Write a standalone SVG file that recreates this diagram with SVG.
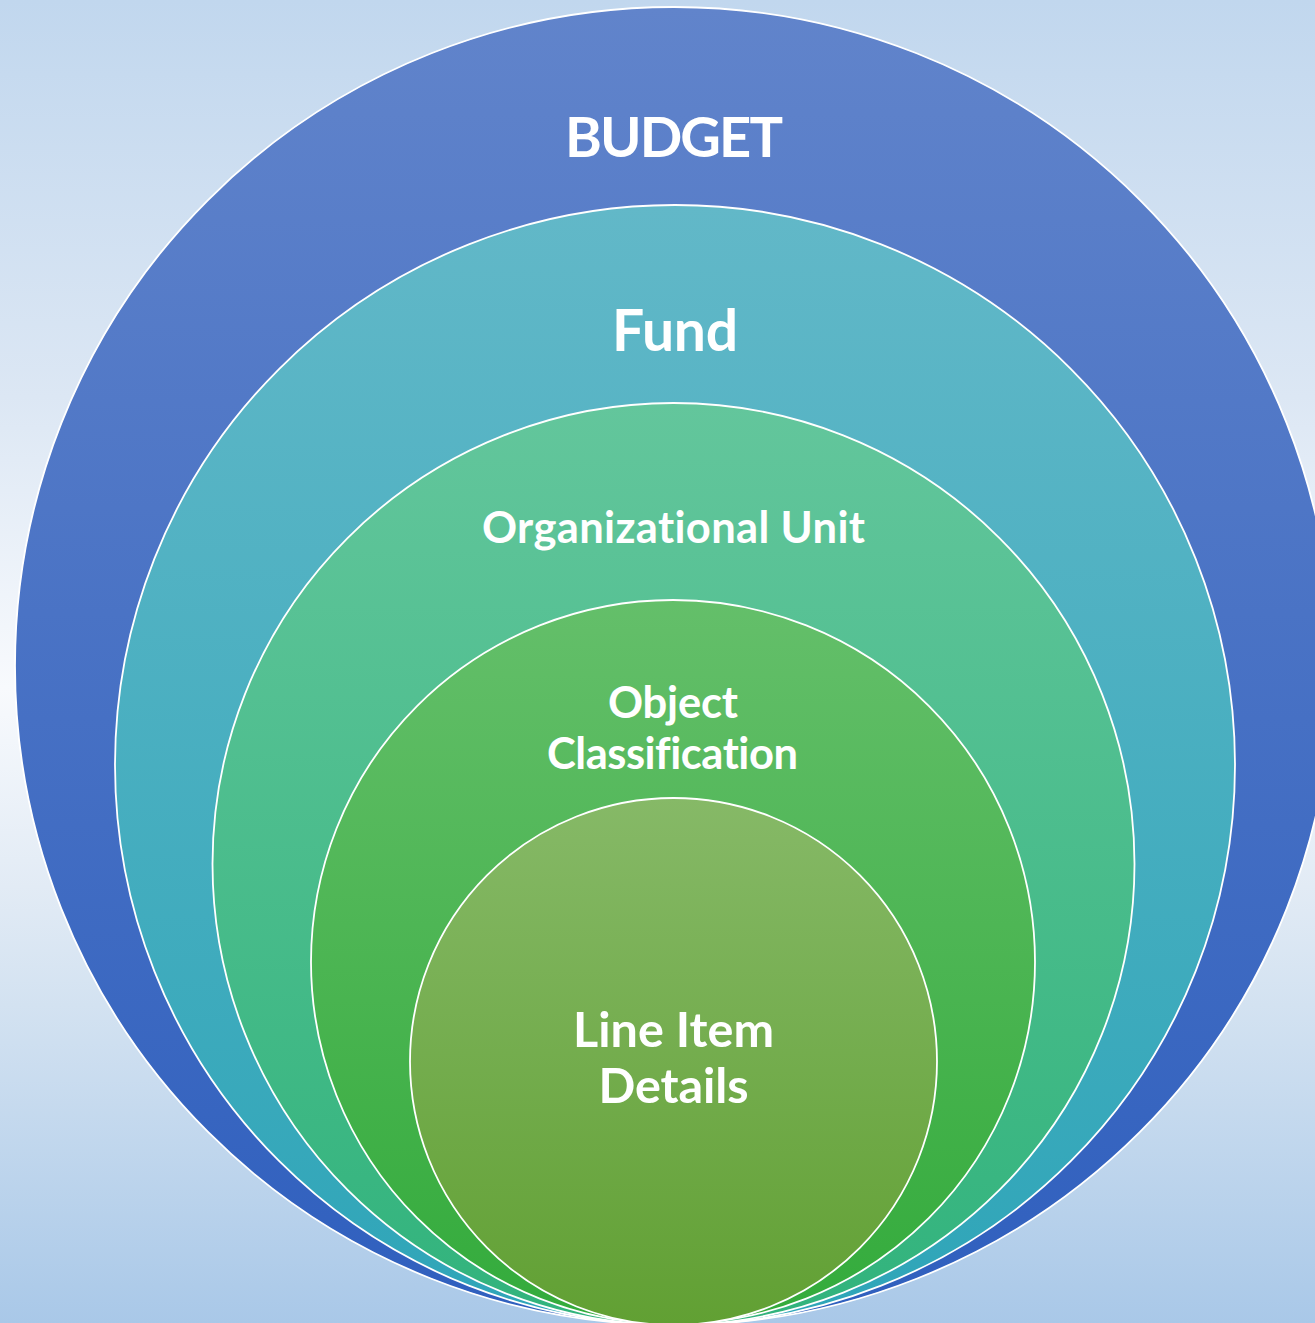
<svg xmlns="http://www.w3.org/2000/svg" width="1315" height="1323" viewBox="0 0 1315 1323">
  <defs>
    <linearGradient id="bg" x1="0" y1="0" x2="0" y2="1323" gradientUnits="userSpaceOnUse">
      <stop offset="0" stop-color="#c1d7ee"/>
      <stop offset="0.3" stop-color="#dce7f4"/>
      <stop offset="0.52" stop-color="#f8fafd"/>
      <stop offset="0.67" stop-color="#e2ebf5"/>
      <stop offset="0.76" stop-color="#d3e2f1"/>
      <stop offset="1" stop-color="#a9c8e8"/>
    </linearGradient>
    <linearGradient id="gBudget" x1="0" y1="0" x2="0" y2="1">
      <stop offset="0" stop-color="#6184cb"/>
      <stop offset="1" stop-color="#2f5fbe"/>
    </linearGradient>
    <linearGradient id="gFund" x1="0" y1="0" x2="0" y2="1">
      <stop offset="0" stop-color="#62b8c8"/>
      <stop offset="1" stop-color="#2ea5b8"/>
    </linearGradient>
    <linearGradient id="gOrg" x1="0" y1="0" x2="0" y2="1">
      <stop offset="0" stop-color="#63c69c"/>
      <stop offset="1" stop-color="#31b37c"/>
    </linearGradient>
    <linearGradient id="gObj" x1="0" y1="0" x2="0" y2="1">
      <stop offset="0" stop-color="#64bf6a"/>
      <stop offset="1" stop-color="#33ab3b"/>
    </linearGradient>
    <linearGradient id="gLine" x1="0" y1="0" x2="0" y2="1">
      <stop offset="0" stop-color="#86b967"/>
      <stop offset="1" stop-color="#61a033"/>
    </linearGradient>
  </defs>
  <style>
    .ring { stroke: #ffffff; stroke-width: 1.8; }
    .lbl { font-family: Lato, "Liberation Sans", sans-serif; font-weight: 700; fill: #ffffff; text-anchor: middle; font-variant-ligatures: none; font-feature-settings: "liga" 0, "clig" 0; }
  </style>
  <rect x="0" y="0" width="1315" height="1323" fill="url(#bg)"/>
  <g id="budget">
    <circle class="ring" cx="674" cy="666" r="659" fill="url(#gBudget)"/>
    <text class="lbl" x="674" y="157" font-size="56" textLength="218" lengthAdjust="spacing">BUDGET</text>
  </g>
  <g id="fund">
    <circle class="ring" cx="675" cy="765" r="560" fill="url(#gFund)"/>
    <text class="lbl" x="675" y="351" font-size="57" textLength="126" lengthAdjust="spacing">Fund</text>
  </g>
  <g id="organizational-unit">
    <circle class="ring" cx="673.5" cy="864" r="461" fill="url(#gOrg)"/>
    <text class="lbl" x="673.5" y="543" font-size="43.5" textLength="383" lengthAdjust="spacing">Organizational Unit</text>
  </g>
  <g id="object-classification">
    <circle class="ring" cx="673" cy="962" r="362" fill="url(#gObj)"/>
    <text class="lbl" x="673" y="718" font-size="43.5" textLength="130" lengthAdjust="spacing">Object</text>
    <text class="lbl" x="672.5" y="769" font-size="43.5" textLength="251" lengthAdjust="spacing">Classification</text>
  </g>
  <g id="line-item-details">
    <circle class="ring" cx="673.5" cy="1061.5" r="263.5" fill="url(#gLine)"/>
    <text class="lbl" x="673.5" y="1047" font-size="48.5" textLength="201" lengthAdjust="spacing">Line Item</text>
    <text class="lbl" x="673.5" y="1103" font-size="48.5" textLength="150" lengthAdjust="spacing">Details</text>
  </g>
</svg>
